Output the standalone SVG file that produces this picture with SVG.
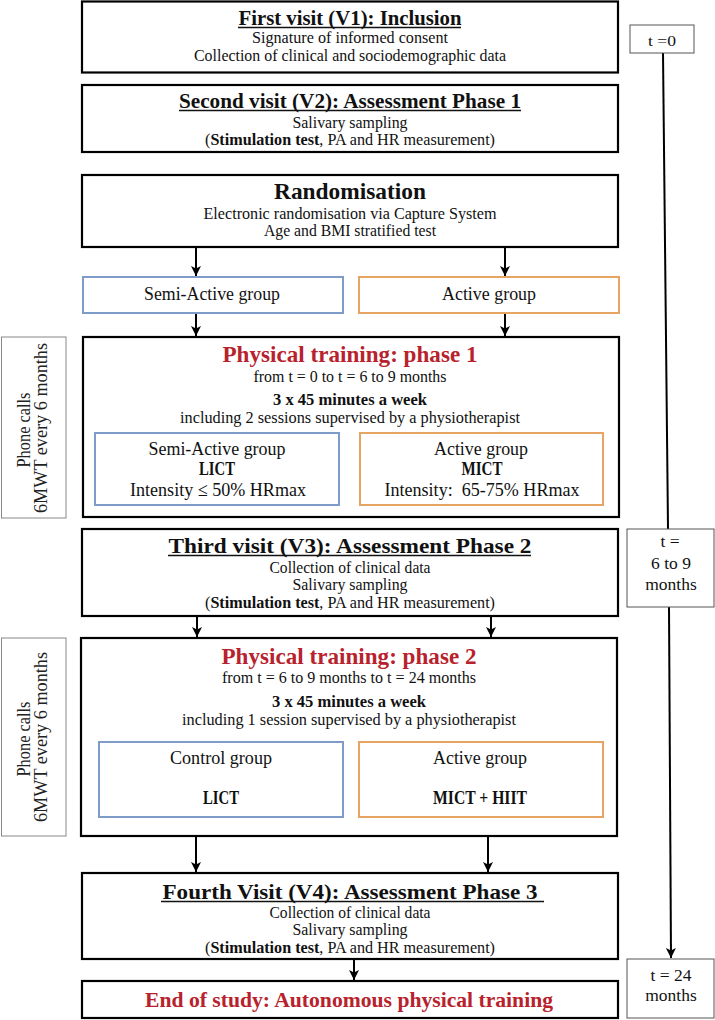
<svg xmlns="http://www.w3.org/2000/svg" width="715" height="1020" viewBox="0 0 715 1020">
<style>
.box{fill:#fff;stroke:#000;stroke-width:2.2}
.blue{fill:#fff;stroke:#7F9CC8;stroke-width:2}
.orange{fill:#fff;stroke:#E8A463;stroke-width:2}
.tbox{fill:#fff;stroke:#555;stroke-width:1}
.pbox{fill:#fff;stroke:#888;stroke-width:1}
.t{font-family:"Liberation Serif",serif;text-anchor:middle;fill:#111}
.title{font-size:21px;font-weight:bold}
.body{font-size:16.5px}
.inner{font-size:19px}
.red{fill:#B8222C;font-weight:bold}
.b{font-weight:bold}
.s{font-family:"Liberation Serif",serif;font-size:18px;text-anchor:middle;fill:#222}
.tt{font-family:"Liberation Serif",serif;font-size:17.5px;text-anchor:middle;fill:#111}
.ul{stroke:#111;stroke-width:1.3}
.c{stroke:#000;stroke-width:2;fill:none}
</style>
<defs>
<marker id="ah" viewBox="0 0 10 10" refX="10" refY="5" markerWidth="5" markerHeight="5" orient="auto" markerUnits="strokeWidth">
<path d="M0,0 L10,5 L0,10 L2.5,5 Z" fill="#000"/>
</marker>
</defs>

<g id="connectors">
<line class="c" x1="196" y1="247" x2="196" y2="276" marker-end="url(#ah)"/>
<line class="c" x1="505" y1="247" x2="505" y2="276" marker-end="url(#ah)"/>
<line class="c" x1="196" y1="313" x2="196" y2="336" marker-end="url(#ah)"/>
<line class="c" x1="505" y1="313" x2="505" y2="336" marker-end="url(#ah)"/>
<line class="c" x1="197" y1="616" x2="197" y2="637" marker-end="url(#ah)"/>
<line class="c" x1="491" y1="616" x2="491" y2="637" marker-end="url(#ah)"/>
<line class="c" x1="196" y1="836" x2="196" y2="872" marker-end="url(#ah)"/>
<line class="c" x1="488" y1="836" x2="488" y2="872" marker-end="url(#ah)"/>
<line class="c" x1="354" y1="959" x2="354" y2="980" marker-end="url(#ah)"/>
<line class="c" x1="663" y1="53" x2="668" y2="529"/>
<line class="c" x1="669" y1="607" x2="671" y2="958" marker-end="url(#ah)"/>
</g>

<g id="v1">
<rect class="box" x="82" y="1.5" width="536" height="71"/>
<text class="t title" x="350" y="25" textLength="223" lengthAdjust="spacingAndGlyphs">First visit (V1): Inclusion</text>
<line class="ul" x1="238" y1="27.5" x2="461" y2="27.5"/>
<text class="t body" x="350" y="43" textLength="196" lengthAdjust="spacingAndGlyphs">Signature of informed consent</text>
<text class="t body" x="350" y="61" textLength="312" lengthAdjust="spacingAndGlyphs">Collection of clinical and sociodemographic data</text>
</g>

<g id="t0">
<rect class="tbox" x="630" y="25" width="64" height="28"/>
<text class="t" x="662" y="46" style="font-size:15.5px" textLength="28" lengthAdjust="spacingAndGlyphs">t =0</text>
</g>

<g id="v2">
<rect class="box" x="82" y="85" width="536" height="67"/>
<text class="t title" x="350" y="108" textLength="342" lengthAdjust="spacingAndGlyphs">Second visit (V2): Assessment Phase 1</text>
<line class="ul" x1="179" y1="110.5" x2="521" y2="110.5"/>
<text class="t body" x="350" y="128" textLength="115" lengthAdjust="spacingAndGlyphs">Salivary sampling</text>
<text class="t body" x="350" y="145" textLength="290" lengthAdjust="spacingAndGlyphs">(<tspan class="b">Stimulation test</tspan>, PA and HR measurement)</text>
</g>

<g id="randomisation">
<rect class="box" x="82" y="175" width="536" height="72"/>
<text class="t" x="350" y="199" style="font-size:23px;font-weight:bold" textLength="152" lengthAdjust="spacingAndGlyphs">Randomisation</text>
<text class="t body" x="350" y="219" textLength="293" lengthAdjust="spacingAndGlyphs">Electronic randomisation via Capture System</text>
<text class="t body" x="350" y="236" textLength="172" lengthAdjust="spacingAndGlyphs">Age and BMI stratified test</text>
</g>

<g id="semi-active-group">
<rect class="blue" x="83" y="277" width="260" height="36"/>
<text class="t" x="212" y="300" style="font-size:18px" textLength="136" lengthAdjust="spacingAndGlyphs">Semi-Active group</text>
</g>

<g id="active-group">
<rect class="orange" x="359" y="277" width="260" height="36"/>
<text class="t" x="489" y="300" style="font-size:18px" textLength="94" lengthAdjust="spacingAndGlyphs">Active group</text>
</g>

<g id="phone1">
<rect class="pbox" x="1.5" y="337" width="64.5" height="181"/>
<text class="s" transform="translate(30,430) rotate(-90)" textLength="75" lengthAdjust="spacingAndGlyphs">Phone calls</text>
<text class="s" transform="translate(47,428) rotate(-90)" textLength="170" lengthAdjust="spacingAndGlyphs">6MWT every 6 months</text>
</g>

<g id="phase1">
<rect class="box" x="83" y="337" width="536" height="180"/>
<text class="t title red" x="350" y="362" style="font-size:23px" textLength="255" lengthAdjust="spacingAndGlyphs">Physical training: phase 1</text>
<text class="t body" x="350" y="382" textLength="193" lengthAdjust="spacingAndGlyphs">from t = 0 to t = 6 to 9 months</text>
<text class="t body b" x="350" y="405" textLength="154" lengthAdjust="spacingAndGlyphs">3 x 45 minutes a week</text>
<text class="t body" x="350" y="423" textLength="340" lengthAdjust="spacingAndGlyphs">including 2 sessions supervised by a physiotherapist</text>
</g>

<g id="phase1-semi">
<rect class="blue" x="95" y="433" width="244" height="72"/>
<text class="t inner" x="217" y="455" textLength="137" lengthAdjust="spacingAndGlyphs">Semi-Active group</text>
<text class="t inner b" x="217" y="475" textLength="36" lengthAdjust="spacingAndGlyphs">LICT</text>
<text class="t inner" x="218" y="496" textLength="176" lengthAdjust="spacingAndGlyphs">Intensity ≤ 50% HRmax</text>
</g>

<g id="phase1-active">
<rect class="orange" x="360" y="433" width="243" height="72"/>
<text class="t inner" x="481" y="455" textLength="94" lengthAdjust="spacingAndGlyphs">Active group</text>
<text class="t inner b" x="482" y="475" textLength="41" lengthAdjust="spacingAndGlyphs">MICT</text>
<text class="t inner" x="482" y="496" textLength="195" lengthAdjust="spacingAndGlyphs" xml:space="preserve">Intensity:  65-75% HRmax</text>
</g>

<g id="v3">
<rect class="box" x="82" y="529" width="536" height="87"/>
<text class="t title" x="350" y="553" textLength="363" lengthAdjust="spacingAndGlyphs">Third visit (V3): Assessment Phase 2</text>
<line class="ul" x1="168" y1="555.5" x2="531" y2="555.5"/>
<text class="t body" x="350" y="573" textLength="161" lengthAdjust="spacingAndGlyphs">Collection of clinical data</text>
<text class="t body" x="350" y="590" textLength="115" lengthAdjust="spacingAndGlyphs">Salivary sampling</text>
<text class="t body" x="350" y="608" textLength="290" lengthAdjust="spacingAndGlyphs">(<tspan class="b">Stimulation test</tspan>, PA and HR measurement)</text>
</g>

<g id="t6">
<rect class="tbox" x="627" y="529" width="87" height="78"/>
<text class="tt" x="670" y="547">t =</text>
<text class="tt" x="671" y="569">6 to 9</text>
<text class="tt" x="671" y="590">months</text>
</g>

<g id="phone2">
<rect class="pbox" x="1.5" y="638" width="64.5" height="198"/>
<text class="s" transform="translate(30,739) rotate(-90)" textLength="75" lengthAdjust="spacingAndGlyphs">Phone calls</text>
<text class="s" transform="translate(47,737) rotate(-90)" textLength="170" lengthAdjust="spacingAndGlyphs">6MWT every 6 months</text>
</g>

<g id="phase2">
<rect class="box" x="81" y="638" width="536" height="198"/>
<text class="t title red" x="349" y="664" style="font-size:23px" textLength="255" lengthAdjust="spacingAndGlyphs">Physical training: phase 2</text>
<text class="t body" x="349" y="683" textLength="254" lengthAdjust="spacingAndGlyphs">from t = 6 to 9 months to t = 24 months</text>
<text class="t body b" x="349" y="707" textLength="154" lengthAdjust="spacingAndGlyphs">3 x 45 minutes a week</text>
<text class="t body" x="349" y="725" textLength="334" lengthAdjust="spacingAndGlyphs">including 1 session supervised by a physiotherapist</text>
</g>

<g id="phase2-control">
<rect class="blue" x="99" y="742" width="244" height="75"/>
<text class="t inner" x="221" y="764" textLength="102" lengthAdjust="spacingAndGlyphs">Control group</text>
<text class="t inner b" x="221" y="804" textLength="36" lengthAdjust="spacingAndGlyphs">LICT</text>
</g>

<g id="phase2-active">
<rect class="orange" x="359" y="742" width="244" height="75"/>
<text class="t inner" x="480" y="764" textLength="94" lengthAdjust="spacingAndGlyphs">Active group</text>
<text class="t inner b" x="480" y="804" textLength="94" lengthAdjust="spacingAndGlyphs">MICT + HIIT</text>
</g>

<g id="v4">
<rect class="box" x="82" y="873" width="536" height="86"/>
<text class="t title" x="350" y="899" textLength="375" lengthAdjust="spacingAndGlyphs">Fourth Visit (V4): Assessment Phase 3</text>
<line class="ul" x1="161" y1="901.5" x2="544" y2="901.5"/>
<text class="t body" x="350" y="918" textLength="161" lengthAdjust="spacingAndGlyphs">Collection of clinical data</text>
<text class="t body" x="350" y="935" textLength="115" lengthAdjust="spacingAndGlyphs">Salivary sampling</text>
<text class="t body" x="350" y="953" textLength="290" lengthAdjust="spacingAndGlyphs">(<tspan class="b">Stimulation test</tspan>, PA and HR measurement)</text>
</g>

<g id="end">
<rect class="box" x="82" y="981" width="536" height="37"/>
<text class="t title red" x="349" y="1007" style="font-size:22px" textLength="408" lengthAdjust="spacingAndGlyphs">End of study: Autonomous physical training</text>
</g>

<g id="t24">
<rect class="tbox" x="627" y="959" width="87" height="59"/>
<text class="tt" x="671" y="981">t = 24</text>
<text class="tt" x="671" y="1001">months</text>
</g>
</svg>
